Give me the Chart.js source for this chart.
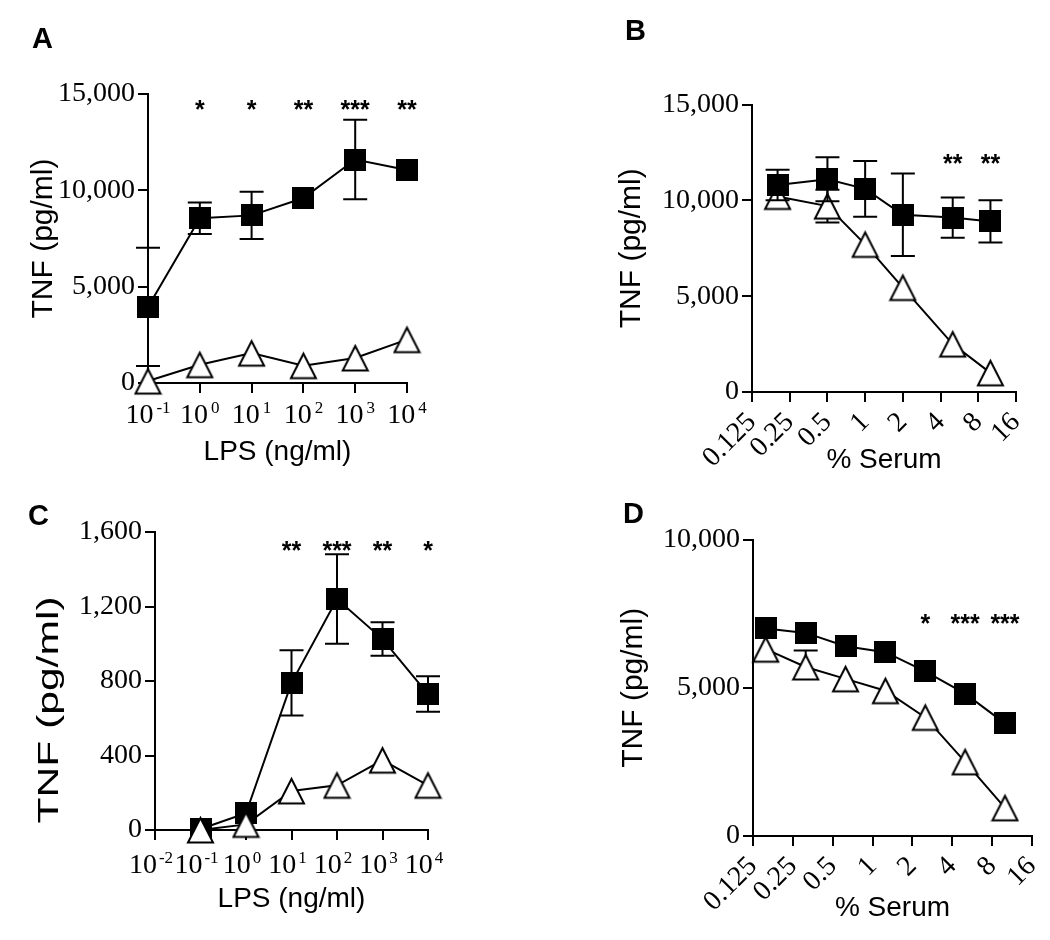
<!DOCTYPE html>
<html>
<head>
<meta charset="utf-8">
<title>TNF response panels</title>
<script src="https://cdn.jsdelivr.net/npm/chart.js@4.4.1/dist/chart.umd.min.js"></script>
<style>
  html, body { margin: 0; padding: 0; background: #fff; }
  #fig { position: relative; width: 1050px; height: 940px; overflow: hidden; background: #fff; }
  #fig canvas { position: absolute; left: 0; top: 0; }
</style>
</head>
<body>
<div id="fig">
  <canvas id="panelA" width="1050" height="940"></canvas>
  <canvas id="panelB" width="1050" height="940"></canvas>
  <canvas id="panelC" width="1050" height="940"></canvas>
  <canvas id="panelD" width="1050" height="940"></canvas>
</div>
<script>
// ---------------- DATA ----------------
// Panel A : TNF vs LPS
const aLps = [0.1, 1, 10, 100, 1000, 10000];
const aFilled = [3950, 8550, 8700, 9600, 11600, 11050];
const aFilledErr = [3070, 820, 1230, 0, 2060, 0];
const aOpen = [100, 950, 1550, 900, 1300, 2250];
const aSig = ['', '*', '*', '**', '***', '**'];
const aXTicks = [0.1, 1, 10, 100, 1000, 10000];
const aYTicks = [0, 5000, 10000, 15000];

// Panel B : TNF vs % serum
const bSerum = [0.2, 0.5, 1, 2, 5, 10];
const bFilled = [10800, 11100, 10600, 9250, 9100, 8900];
const bFilledErr = [800, 1150, 1450, 2150, 1050, 1100];
const bOpen = [10200, 9700, 7700, 5450, 2500, 1000];
const bOpenErr = [0, 850, 0, 0, 0, 0];
const bSig = ['', '', '', '', '**', '**'];
const bXTicks = [0.125, 0.25, 0.5, 1, 2, 4, 8, 16];
const bYTicks = [0, 5000, 10000, 15000];

// Panel C : TNF vs LPS
const cLps = [0.1, 1, 10, 100, 1000, 10000];
const cFilled = [5, 90, 790, 1240, 1025, 730];
const cFilledErr = [0, 0, 175, 240, 90, 95];
const cOpen = [0, 30, 210, 240, 375, 240];
const cSig = ['', '', '**', '***', '**', '*'];
const cXTicks = [0.01, 0.1, 1, 10, 100, 1000, 10000];
const cYTicks = [0, 400, 800, 1200, 1600];

// Panel D : TNF vs % serum
const dSerum = [0.156, 0.3125, 0.625, 1.25, 2.5, 5, 10];
const dFilled = [7000, 6850, 6400, 6200, 5550, 4800, 3800];
const dFilledErr = [0, 0, 0, 0, 0, 0, 0];
const dOpen = [6300, 5700, 5300, 4900, 4000, 2500, 950];
const dOpenErr = [0, 560, 0, 0, 0, 0, 0];
const dSig = ['', '', '', '', '*', '***', '***'];
const dXTicks = [0.125, 0.25, 0.5, 1, 2, 4, 8, 16];
const dYTicks = [0, 5000, 10000];

// ---------------- STYLE ----------------
const SERIF = "'Liberation Serif', 'Times New Roman', serif";
const SANS = "'Liberation Sans', Arial, sans-serif";

function squareMarker() {
  const c = document.createElement('canvas');
  c.width = 22; c.height = 22;
  const g = c.getContext('2d');
  g.fillStyle = '#000';
  g.fillRect(0, 0, 22, 22);
  return c;
}
function triangleMarker() {
  const c = document.createElement('canvas');
  c.width = 29; c.height = 30;
  const g = c.getContext('2d');
  g.beginPath();
  g.moveTo(14.5, 3);
  g.lineTo(27, 27.5);
  g.lineTo(2, 27.5);
  g.closePath();
  g.fillStyle = '#fff';
  g.fill();
  g.lineWidth = 2;
  g.strokeStyle = '#000';
  g.stroke();
  return c;
}
const SQ = squareMarker();
const TRI = triangleMarker();

// error bars drawn just before each dataset's line + markers
const errorBars = {
  id: 'errorBars',
  beforeDatasetDraw(chart, args) {
    const ds = chart.data.datasets[args.index];
    if (!ds.errors) return;
    const ctx = chart.ctx, sx = chart.scales.x, sy = chart.scales.y;
    ctx.save();
    ctx.strokeStyle = '#000';
    ctx.lineWidth = 2;
    ds.data.forEach((p, i) => {
      const e = ds.errors[i];
      if (!e) return;
      const x = sx.getPixelForValue(p.x);
      const y = sy.getPixelForValue(p.y);
      const yt = sy.getPixelForValue(p.y + e);
      const yb = sy.getPixelForValue(p.y - e);
      const up = ds.errorDir === 'up';
      ctx.beginPath();
      ctx.moveTo(x, yt); ctx.lineTo(x, up ? y : yb);
      ctx.moveTo(x - 12, yt); ctx.lineTo(x + 12, yt);
      if (!up) { ctx.moveTo(x - 12, yb); ctx.lineTo(x + 12, yb); }
      ctx.stroke();
    });
    ctx.restore();
  }
};

function sigMarks(xs, labels, offset) {
  return {
    id: 'sigMarks',
    afterDatasetsDraw(chart) {
      const ctx = chart.ctx, sx = chart.scales.x;
      const yc = chart.chartArea.top + offset;
      ctx.save();
      ctx.font = 'bold 25px ' + SANS;
      ctx.fillStyle = '#000';
      ctx.textAlign = 'center';
      ctx.textBaseline = 'alphabetic';
      xs.forEach((x, i) => {
        if (labels[i]) ctx.fillText(labels[i], sx.getPixelForValue(x), yc + 14);
      });
      ctx.restore();
    }
  };
}

function powerLabels(cfg) {
  return {
    id: 'powerLabels',
    afterDraw(chart) {
      const ctx = chart.ctx, sx = chart.scales.x;
      const base = chart.chartArea.bottom + cfg.baseline;
      ctx.save();
      ctx.fillStyle = '#000';
      ctx.textAlign = 'left';
      ctx.textBaseline = 'alphabetic';
      sx.ticks.forEach(t => {
        const e = Math.round(Math.log10(t.value));
        const sup = e < 0 ? '-' + (-e) : String(e);
        ctx.font = '28px ' + SERIF;
        const wb = ctx.measureText('10').width;
        ctx.font = '17px ' + SERIF;
        const ws = ctx.measureText(sup).width;
        const total = wb + cfg.gap + ws;
        const x0 = sx.getPixelForValue(t.value) - total / 2 + cfg.dx;
        ctx.font = '28px ' + SERIF;
        ctx.fillText('10', x0, base);
        ctx.font = '17px ' + SERIF;
        ctx.fillText(sup, x0 + wb + cfg.gap, base - cfg.raise);
      });
      ctx.restore();
    }
  };
}

function panelLetter(text, x, y) {
  return {
    id: 'panelLetter',
    afterDraw(chart) {
      const ctx = chart.ctx;
      ctx.save();
      ctx.font = 'bold 29px ' + SANS;
      ctx.fillStyle = '#000';
      ctx.textAlign = 'left';
      ctx.textBaseline = 'alphabetic';
      ctx.fillText(text, x, y);
      ctx.restore();
    }
  };
}

function stretchedTitle(cfg) {
  return {
    id: 'stretchedTitle',
    afterDraw(chart) {
      const ctx = chart.ctx, ca = chart.chartArea;
      ctx.save();
      ctx.translate(ca.left - cfg.dx, (ca.top + ca.bottom) / 2 + cfg.dy);
      ctx.rotate(-Math.PI / 2);
      ctx.scale(cfg.stretch, 1);
      ctx.font = '30px ' + SANS;
      ctx.fillStyle = '#000';
      ctx.textAlign = 'center';
      ctx.textBaseline = 'middle';
      ctx.fillText(cfg.text, 0, 0);
      ctx.restore();
    }
  };
}

const axisGrid = {
  display: true, drawOnChartArea: false, drawTicks: true,
  tickLength: 10, tickWidth: 2, tickColor: '#000', color: '#000', lineWidth: 2
};
const axisBorder = { display: true, color: '#000', width: 2 };

function panel(o) {
  const mk = (vals, errs, style, dir) => ({
    data: o.xs.map((x, i) => ({ x: x, y: vals[i] })),
    errors: errs, errorDir: dir || 'both',
    showLine: true, borderColor: '#000', borderWidth: 2, tension: 0, fill: false,
    pointStyle: style, pointRadius: 12, pointHoverRadius: 12, pointBorderWidth: 0,
    pointBackgroundColor: '#000', pointBorderColor: '#000', clip: false
  });
  const dsFilled = mk(o.filled, o.filledErr, SQ, 'both');
  const dsOpen = mk(o.open, o.openErr, TRI, o.openErrDir);
  const datasets = o.openOnTop ? [dsFilled, dsOpen] : [dsOpen, dsFilled];

  const plugins = [errorBars, sigMarks(o.xs, o.sig, o.sigOffset), panelLetter(o.letter[0], o.letter[1], o.letter[2])];
  if (o.power) plugins.push(powerLabels(o.power));
  if (o.yStretch) plugins.push(stretchedTitle(o.yStretch));

  return new Chart(document.getElementById(o.id), {
    type: 'scatter',
    data: { datasets: datasets },
    options: {
      responsive: false,
      devicePixelRatio: 1,
      animation: false,
      events: [],
      layout: { autoPadding: false, padding: o.pad },
      plugins: { legend: { display: false }, tooltip: { enabled: false } },
      scales: {
        x: {
          type: 'logarithmic', position: 'bottom', min: o.xMin, max: o.xMax,
          afterBuildTicks: s => { s.ticks = o.xTicks.map(v => ({ value: v })); },
          afterFit: s => { s.height = o.xH; s.paddingLeft = 0; s.paddingRight = 0; s.paddingTop = 0; s.paddingBottom = 0; },
          grid: axisGrid, border: axisBorder,
          ticks: {
            display: !o.power, autoSkip: false, minRotation: 45, maxRotation: 45,
            padding: o.xTickPad || 4, color: '#000',
            font: { family: SERIF, size: 28 },
            callback: v => String(v)
          },
          title: {
            display: true, text: o.xTitle, color: '#000',
            font: { family: SANS, size: 28, lineHeight: 1 },
            padding: { top: 0, bottom: o.xTitlePad }
          }
        },
        y: {
          type: 'linear', position: 'left', min: 0, max: o.yMax,
          afterBuildTicks: s => { s.ticks = o.yTicks.map(v => ({ value: v })); },
          afterFit: s => { s.width = o.yW; s.paddingTop = 0; s.paddingBottom = 0; s.paddingLeft = 0; s.paddingRight = 0; },
          grid: axisGrid, border: axisBorder,
          ticks: {
            padding: 3, color: '#000',
            font: { family: SERIF, size: 28 },
            callback: v => Number(v).toLocaleString('en-US')
          },
          title: {
            display: !o.yStretch, text: 'TNF (pg/ml)', color: '#000',
            font: { family: SANS, size: 30, lineHeight: 1 },
            padding: { top: o.yTitlePad || 0, bottom: 0 }
          }
        }
      }
    },
    plugins: plugins
  });
}

panel({
  id: 'panelA', xs: aLps, filled: aFilled, filledErr: aFilledErr, open: aOpen, openErr: null,
  openOnTop: false, sig: aSig, sigOffset: 10,
  xMin: 0.1, xMax: 10000, xTicks: aXTicks, yMax: 15000, yTicks: aYTicks,
  pad: { left: 0, top: 94, right: 643, bottom: 467 }, yW: 148, xH: 90,
  yTitlePad: 28.4, xTitle: 'LPS (ng/ml)', xTitlePad: 6.7,
  power: { baseline: 40, raise: 10, gap: 3, dx: 0 },
  letter: ['A', 32, 48]
});

panel({
  id: 'panelB', xs: bSerum, filled: bFilled, filledErr: bFilledErr, open: bOpen, openErr: bOpenErr,
  openOnTop: true, sig: bSig, sigOffset: 53,
  xMin: 0.125, xMax: 16, xTicks: bXTicks, yMax: 15000, yTicks: bYTicks,
  pad: { left: 612, top: 104.5, right: 34, bottom: 458 }, yW: 140, xH: 90,
  yTitlePad: 5.2, xTitle: '% Serum', xTitlePad: 7.7, xTickPad: 4,
  letter: ['B', 625, 40]
});

panel({
  id: 'panelC', xs: cLps, filled: cFilled, filledErr: cFilledErr, open: cOpen, openErr: null,
  openOnTop: false, sig: cSig, sigOffset: 13,
  xMin: 0.01, xMax: 10000, xTicks: cXTicks, yMax: 1600, yTicks: cYTicks,
  pad: { left: 0, top: 532, right: 622, bottom: 20 }, yW: 155, xH: 90,
  xTitle: 'LPS (ng/ml)', xTitlePad: 6.7,
  power: { baseline: 43, raise: 10, gap: 2, dx: -4 },
  yStretch: { text: 'TNF (pg/ml)', dx: 105.6, dy: 29, stretch: 1.42 },
  letter: ['C', 28, 525]
});

panel({
  id: 'panelD', xs: dSerum, filled: dFilled, filledErr: dFilledErr, open: dOpen, openErr: dOpenErr,
  openErrDir: 'up', openOnTop: true, sig: dSig, sigOffset: 78,
  xMin: 0.125, xMax: 16, xTicks: dXTicks, yMax: 10000, yTicks: dYTicks,
  pad: { left: 613, top: 539.5, right: 18, bottom: 14 }, yW: 140, xH: 90,
  yTitlePad: 5.4, xTitle: '% Serum', xTitlePad: 3.7, xTickPad: 4,
  letter: ['D', 623, 523]
});
</script>
</body>
</html>
